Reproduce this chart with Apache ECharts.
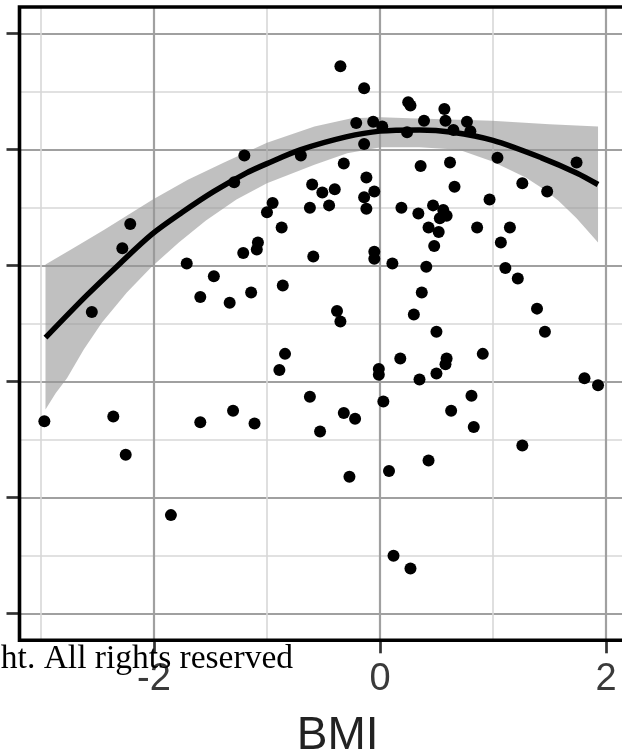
<!DOCTYPE html>
<html>
<head>
<meta charset="utf-8">
<script src="https://cdn.jsdelivr.net/npm/echarts@6/dist/echarts.min.js"></script>
<style>
html,body{margin:0;padding:0;background:#fff;}
#chart{width:622px;height:756px;}
</style>
</head>
<body>
<div id="chart"></div>
<script>
// ---- data ----
const bmi = [-0.35,-0.14,0.25,0.27,0.57,-0.21,-0.06,0.02,0.39,0.58,0.77,0.24,0.65,0.80,-0.14,-1.20,-0.70,-1.29,-0.32,0.36,
  0.62,1.04,1.74,-0.60,-0.51,-0.40,-0.12,-0.14,-0.05,-0.95,-1.00,-0.62,-0.45,-0.12,0.19,0.34,0.47,0.56,0.59,0.53,
  0.66,1.26,1.48,0.97,-0.87,0.43,0.52,0.86,1.15,1.07,0.48,-2.21,-2.28,-2.55,-1.71,-1.47,-1.59,-1.21,-1.08,-1.09,
  -0.59,-0.05,-0.05,0.11,-1.33,-1.14,-0.86,0.41,1.11,1.22,0.37,-0.38,-0.35,0.30,0.50,1.39,1.46,0.91,0.18,-0.01,
  -0.01,0.59,0.58,0.35,0.50,1.81,1.93,-0.84,-0.89,-0.62,0.03,0.81,0.63,-0.32,-0.22,0.83,-0.53,1.26,0.43,-0.27,
  0.08,0.12,0.27,-2.97,-2.36,-2.25,-1.59,-1.30,-1.11,-1.85];
const outcome = [4.72,4.53,4.41,4.38,4.35,4.23,4.24,4.20,4.25,4.25,4.24,4.15,4.17,4.16,4.05,3.95,3.95,3.72,3.88,3.86,
  3.89,3.93,3.89,3.70,3.63,3.66,3.76,3.59,3.64,3.54,3.46,3.50,3.52,3.49,3.50,3.45,3.52,3.48,3.43,3.41,
  3.68,3.71,3.64,3.57,3.33,3.33,3.29,3.33,3.33,3.20,3.17,3.36,3.15,2.60,3.02,2.91,2.73,3.11,3.20,3.14,
  3.08,3.12,3.06,3.02,2.68,2.77,2.83,2.99,2.98,2.89,2.77,2.61,2.52,2.58,2.43,2.63,2.43,2.24,2.20,2.11,
  2.06,2.20,2.15,2.02,2.07,2.03,1.97,2.24,2.10,1.87,1.83,1.88,1.75,1.73,1.68,1.61,1.57,1.45,1.32,1.18,
  1.23,0.50,0.39,1.66,1.70,1.37,1.65,1.75,1.64,0.85];

const fitX = [-2.96,-2.60,-2.30,-2.02,-1.75,-1.47,-1.18,-1.00,-0.70,-0.30,0.00,0.35,0.64,1.00,1.43,1.74,1.93];
const fitY = [2.38,2.74,3.02,3.27,3.46,3.64,3.80,3.88,4.00,4.11,4.16,4.17,4.15,4.08,3.93,3.80,3.70];

const bandUpperX = [-2.96,-2.70,-2.44,-2.01,-1.70,-1.38,-1.00,-0.58,-0.25,0.01,0.26,0.99,1.50,1.93];
const bandUpperY = [3.01,3.16,3.31,3.57,3.74,3.89,4.06,4.20,4.27,4.28,4.27,4.25,4.22,4.20];
const bandLowerX = [-2.96,-2.87,-2.77,-2.62,-2.46,-2.24,-2.02,-1.78,-1.54,-1.27,-1.00,-0.58,-0.29,0.01,0.35,0.70,0.99,1.29,1.45,1.58,1.74,1.93];
const bandLowerY = [1.76,1.90,2.03,2.28,2.51,2.77,2.99,3.20,3.39,3.57,3.71,3.87,3.97,4.02,4.02,4.00,3.90,3.76,3.66,3.56,3.41,3.20];

const xMajorTicks = [-2, 0, 2];
const xMinorTicks = [-3, -1, 1];
const yMajorTicks = [0, 1, 2, 3, 4, 5];
const yMinorTicks = [0.5, 1.5, 2.5, 3.5, 4.5];
const xTitle = 'BMI';
const watermark = 'ht. All rights reserved';

// ---- build ----
const points = bmi.map((x, i) => [x, outcome[i]]);
const fitLine = fitX.map((x, i) => [x, fitY[i]]);
const bandPoly = bandUpperX.map((x, i) => [x, bandUpperY[i]])
  .concat(bandLowerX.map((x, i) => [x, bandLowerY[i]]).reverse());

const X_MIN = -3.19, X_MAX = 2.443, Y_MIN = -0.229, Y_MAX = 5.23;
const majorLine = { color: '#a0a0a0', width: 2.2 };
const minorLine = { color: '#d7d7d7', width: 1.6 };
const tickStyle = { color: '#333333', width: 2.7 };

const chart = echarts.init(document.getElementById('chart'), null, { renderer: 'canvas' });
chart.setOption({
  animation: false,
  backgroundColor: '#ffffff',
  grid: {
    left: 19.5, top: 7, width: 636.5, height: 633.3,
    show: true, borderColor: '#000000', borderWidth: 3.6,
    backgroundColor: 'transparent', z: 3,
    containLabel: false, outerBoundsMode: 'none'
  },
  xAxis: [
    {
      type: 'value', min: X_MIN, max: X_MAX, position: 'bottom',
      axisLine: { show: false, onZero: false },
      axisTick: { show: true, length: 13, lineStyle: tickStyle, customValues: xMajorTicks },
      axisLabel: {
        customValues: xMajorTicks, margin: 20, fontSize: 38,
        fontFamily: 'Liberation Sans, Arial, sans-serif', color: '#3a3a3a'
      },
      splitLine: { show: true, lineStyle: majorLine },
      name: xTitle, nameLocation: 'middle', nameGap: 73,
      nameTextStyle: { fontSize: 46, fontFamily: 'Liberation Sans, Arial, sans-serif', color: '#222222' }
    },
    {
      type: 'value', min: X_MIN, max: X_MAX, position: 'top',
      axisLine: { show: false, onZero: false },
      axisTick: { show: false, customValues: xMinorTicks },
      axisLabel: { show: false, customValues: xMinorTicks },
      splitLine: { show: true, lineStyle: minorLine }
    }
  ],
  yAxis: [
    {
      type: 'value', min: Y_MIN, max: Y_MAX, position: 'left',
      axisLine: { show: false, onZero: false },
      axisTick: { show: true, length: 13, lineStyle: tickStyle, customValues: yMajorTicks },
      axisLabel: { show: false, customValues: yMajorTicks },
      splitLine: { show: true, lineStyle: majorLine }
    },
    {
      type: 'value', min: Y_MIN, max: Y_MAX, position: 'right',
      axisLine: { show: false, onZero: false },
      axisTick: { show: false, customValues: yMinorTicks },
      axisLabel: { show: false, customValues: yMinorTicks },
      splitLine: { show: true, lineStyle: minorLine }
    }
  ],
  graphic: [{
    type: 'text', x: 293, y: 659, z: 100,
    style: {
      text: watermark, fill: '#000000', align: 'right', verticalAlign: 'middle',
      font: '33.5px "Liberation Serif", "DejaVu Serif", serif'
    }
  }],
  series: [
    {
      type: 'custom', name: 'band', xAxisIndex: 0, yAxisIndex: 0, z: 1,
      data: bandPoly,
      renderItem: function (params, api) {
        if (params.dataIndex !== 0) return null;
        const pts = bandPoly.map(p => api.coord(p));
        return { type: 'polygon', shape: { points: pts }, style: { fill: 'rgba(150,150,150,0.6)' } };
      },
      silent: true
    },
    {
      type: 'line', name: 'fit', xAxisIndex: 0, yAxisIndex: 0, z: 2,
      data: fitLine, smooth: 0.3, showSymbol: false, symbol: 'none',
      lineStyle: { color: '#000000', width: 5.5, cap: 'butt' }
    },
    {
      type: 'scatter', name: 'obs', xAxisIndex: 0, yAxisIndex: 0, z: 3,
      data: points, symbolSize: 12,
      itemStyle: { color: '#000000', opacity: 1 }
    }
  ]
});
</script>
</body>
</html>
